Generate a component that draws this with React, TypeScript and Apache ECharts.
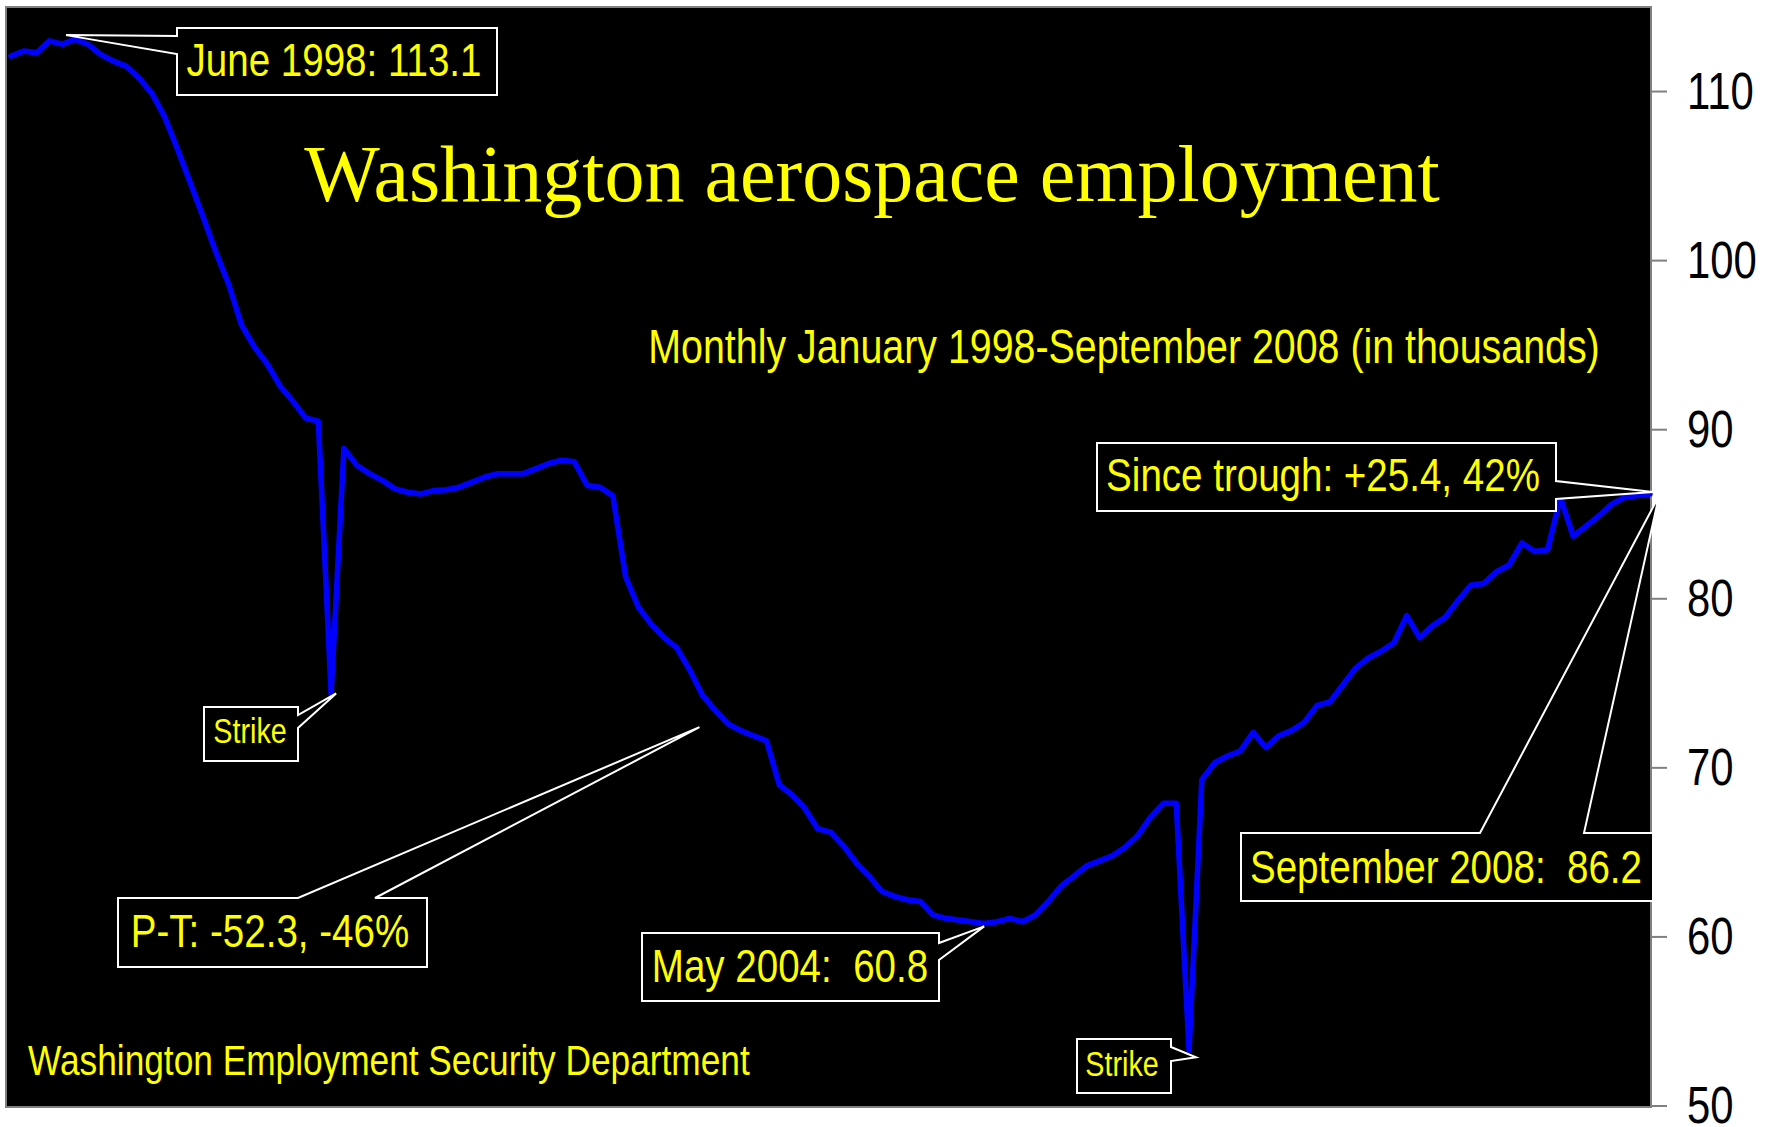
import React, { useEffect, useRef } from "react";
import * as echarts from "echarts";

// ---------- DATA ----------
const months: string[] = [];
for (let y = 1998; y <= 2008; y++) {
  for (let m = 1; m <= 12; m++) {
    if (y === 2008 && m > 9) break;
    months.push(`${y}-${String(m).padStart(2, "0")}`);
  }
}

// Washington aerospace employment, thousands, Jan 1998 - Sep 2008
const employment: number[] = [
  112.1, 112.4, 112.3, 113.0, 112.8, 113.1, 112.8, 112.2, 111.8, 111.5,
  110.8, 109.9, 108.5, 106.6, 104.6, 102.6, 100.5, 98.6, 96.2, 94.9,
  93.9, 92.6, 91.7, 90.7, 90.5, 74.4, 88.9, 87.9, 87.4, 87.0,
  86.5, 86.3, 86.2, 86.4, 86.45, 86.6, 86.9, 87.2, 87.4, 87.4,
  87.4, 87.7, 88.0, 88.2, 88.1, 86.7, 86.6, 86.1, 81.3, 79.5,
  78.5, 77.7, 77.1, 75.8, 74.3, 73.4, 72.6, 72.2, 71.9, 71.6,
  69.0, 68.4, 67.6, 66.4, 66.2, 65.4, 64.4, 63.6, 62.7, 62.4,
  62.2, 62.1, 61.3, 61.1, 61.0, 60.9, 60.8, 60.9, 61.1, 60.9,
  61.3, 62.1, 63.0, 63.6, 64.2, 64.5, 64.8, 65.3, 66.0, 67.1,
  67.9, 67.9, 53.3, 69.3, 70.3, 70.7, 71.0, 72.1, 71.2, 71.9,
  72.2, 72.7, 73.7, 73.9, 74.9, 75.9, 76.5, 76.9, 77.4, 79.0,
  77.7, 78.4, 78.9, 79.9, 80.8, 80.9, 81.6, 82.0, 83.3, 82.8,
  82.9, 86.0, 83.7, 84.3, 84.9, 85.6, 86.0, 86.1, 86.2,
];

const yTicks: number[] = [50, 60, 70, 80, 90, 100, 110];

const titleText = "Washington aerospace employment";
const subtitleText = "Monthly January 1998-September 2008 (in thousands)";
const sourceText = "Washington Employment Security Department";

const calloutTexts: string[] = [
  "June 1998: 113.1",
  "Strike",
  "P-T: -52.3, -46%",
  "May 2004:  60.8",
  "Strike",
  "Since trough: +25.4, 42%",
  "September 2008:  86.2",
];
// month index each callout points at
const calloutAnchors: number[] = [5, 25, 54, 76, 92, 128, 128];

// ---------- LAYOUT ----------
const SANS = '"Liberation Sans", Arial, sans-serif';
const SERIF = '"Liberation Serif", "Times New Roman", serif';
const NARROW_SCALE = 0.82;
const YELLOW = "#ffff00";

type Side = "left" | "right" | "top";
interface CalloutLayout {
  box: [number, number, number, number];
  side: Side;
  attach: [number, number];
  off: [number, number];
  textX: number;
  textY: number;
  fontSize: number;
}
const calloutLayout: CalloutLayout[] = [
  { box: [177, 28, 497, 95], side: "left", attach: [36, 54], off: [-9, -4], textX: 334, textY: 60, fontSize: 47 },
  { box: [204, 707, 298, 761], side: "right", attach: [715, 728], off: [5, 0], textX: 250, textY: 731, fontSize: 35 },
  { box: [118, 898, 427, 967], side: "top", attach: [298, 375], off: [-3, 32], textX: 270, textY: 931, fontSize: 47 },
  { box: [642, 933, 939, 1001], side: "right", attach: [943, 960], off: [0, 3], textX: 790, textY: 966, fontSize: 47 },
  { box: [1077, 1039, 1171, 1093], side: "right", attach: [1047, 1061], off: [7, 7], textX: 1122, textY: 1064, fontSize: 35 },
  { box: [1097, 443, 1556, 511], side: "right", attach: [481, 499], off: [3, -2], textX: 1323, textY: 475, fontSize: 47 },
  { box: [1241, 833, 1653, 901], side: "top", attach: [1480, 1584], off: [9, 2], textX: 1446, textY: 867, fontSize: 47 },
];

function calloutPoints(l: CalloutLayout, tip: number[]): number[][] {
  const [x1, y1, x2, y2] = l.box;
  const [a, b] = l.attach;
  if (l.side === "left") return [[x1, y1], [x2, y1], [x2, y2], [x1, y2], [x1, b], tip, [x1, a]];
  if (l.side === "right") return [[x1, y1], [x2, y1], [x2, a], tip, [x2, b], [x2, y2], [x1, y2]];
  return [[x1, y1], [a, y1], tip, [b, y1], [x2, y1], [x2, y2], [x1, y2]];
}

function textEl(
  text: string, x: number, y: number, size: number, family: string,
  align: string, z: number, scaleX = 1, fill = YELLOW,
) {
  return {
    type: "text",
    x,
    y,
    z,
    scaleX,
    scaleY: 1,
    silent: true,
    style: {
      text,
      fill,
      fontSize: size,
      fontFamily: family,
      textAlign: align,
      textVerticalAlign: "middle",
      align,
      verticalAlign: "middle",
    },
  };
}

export default function App() {
  const ref = useRef<HTMLDivElement>(null);

  useEffect(() => {
    const el = ref.current;
    if (!el) return;
    const chart = echarts.init(el, null, { renderer: "svg" });
    chart.setOption({
      animation: false,
      backgroundColor: "#ffffff",
      grid: { left: 11, right: 122, top: 7, bottom: 21, containLabel: false },
      xAxis: { type: "value", min: 0, max: months.length - 1, show: false },
      yAxis: {
        type: "value",
        position: "right",
        min: 50,
        max: 115,
        interval: 10,
        show: false,
      },
      series: [
        {
          type: "line",
          name: "Employment",
          data: employment.map((v, i) => [i, v]),
          symbol: "none",
          showSymbol: false,
          silent: true,
          z: 2,
          lineStyle: { color: "#0000ff", width: 5.5, cap: "round", join: "round" },
        },
      ],
    });

    const toPx = (x: number, y: number) =>
      chart.convertToPixel({ gridIndex: 0 }, [x, y]) as number[];

    const elements: any[] = [];
    // plot frame
    elements.push({
      type: "rect",
      z: 0,
      silent: true,
      shape: { x: 6, y: 7, width: 1645, height: 1100 },
      style: { fill: "#000000", stroke: "#808080", lineWidth: 2 },
    });

    // right value axis: ticks and labels placed through the y scale
    const axisX = 1651;
    yTicks.forEach((t) => {
      const py = toPx(0, t)[1];
      elements.push({
        type: "line",
        z: 1,
        silent: true,
        shape: { x1: axisX, y1: py, x2: axisX + 16, y2: py },
        style: { stroke: "#808080", lineWidth: 2 },
      });
      elements.push(textEl(String(t), axisX + 36, py, 51, SANS, "left", 1, NARROW_SCALE, "#000000"));
    });

    calloutLayout.forEach((l, k) => {
      const idx = calloutAnchors[k];
      const p = toPx(idx, employment[idx]);
      const tip = [p[0] + l.off[0], p[1] + l.off[1]];
      elements.push({
        type: "polygon",
        z: 10,
        silent: true,
        shape: { points: calloutPoints(l, tip) },
        style: { fill: "#000000", stroke: "#ffffff", lineWidth: 2 },
      });
      elements.push(textEl(calloutTexts[k], l.textX, l.textY, l.fontSize, SANS, "center", 11, NARROW_SCALE));
    });

    elements.push(textEl(titleText, 872, 174, 80, SERIF, "center", 11));
    elements.push(textEl(subtitleText, 1124, 346, 48, SANS, "center", 11, NARROW_SCALE));
    elements.push(textEl(sourceText, 28, 1060, 43, SANS, "left", 11, NARROW_SCALE));

    chart.setOption({ graphic: { elements } });

    return () => chart.dispose();
  }, []);

  return (
    <div
      ref={ref}
      style={{ position: "fixed", left: 0, top: 0, width: 1772, height: 1127 }}
    />
  );
}
